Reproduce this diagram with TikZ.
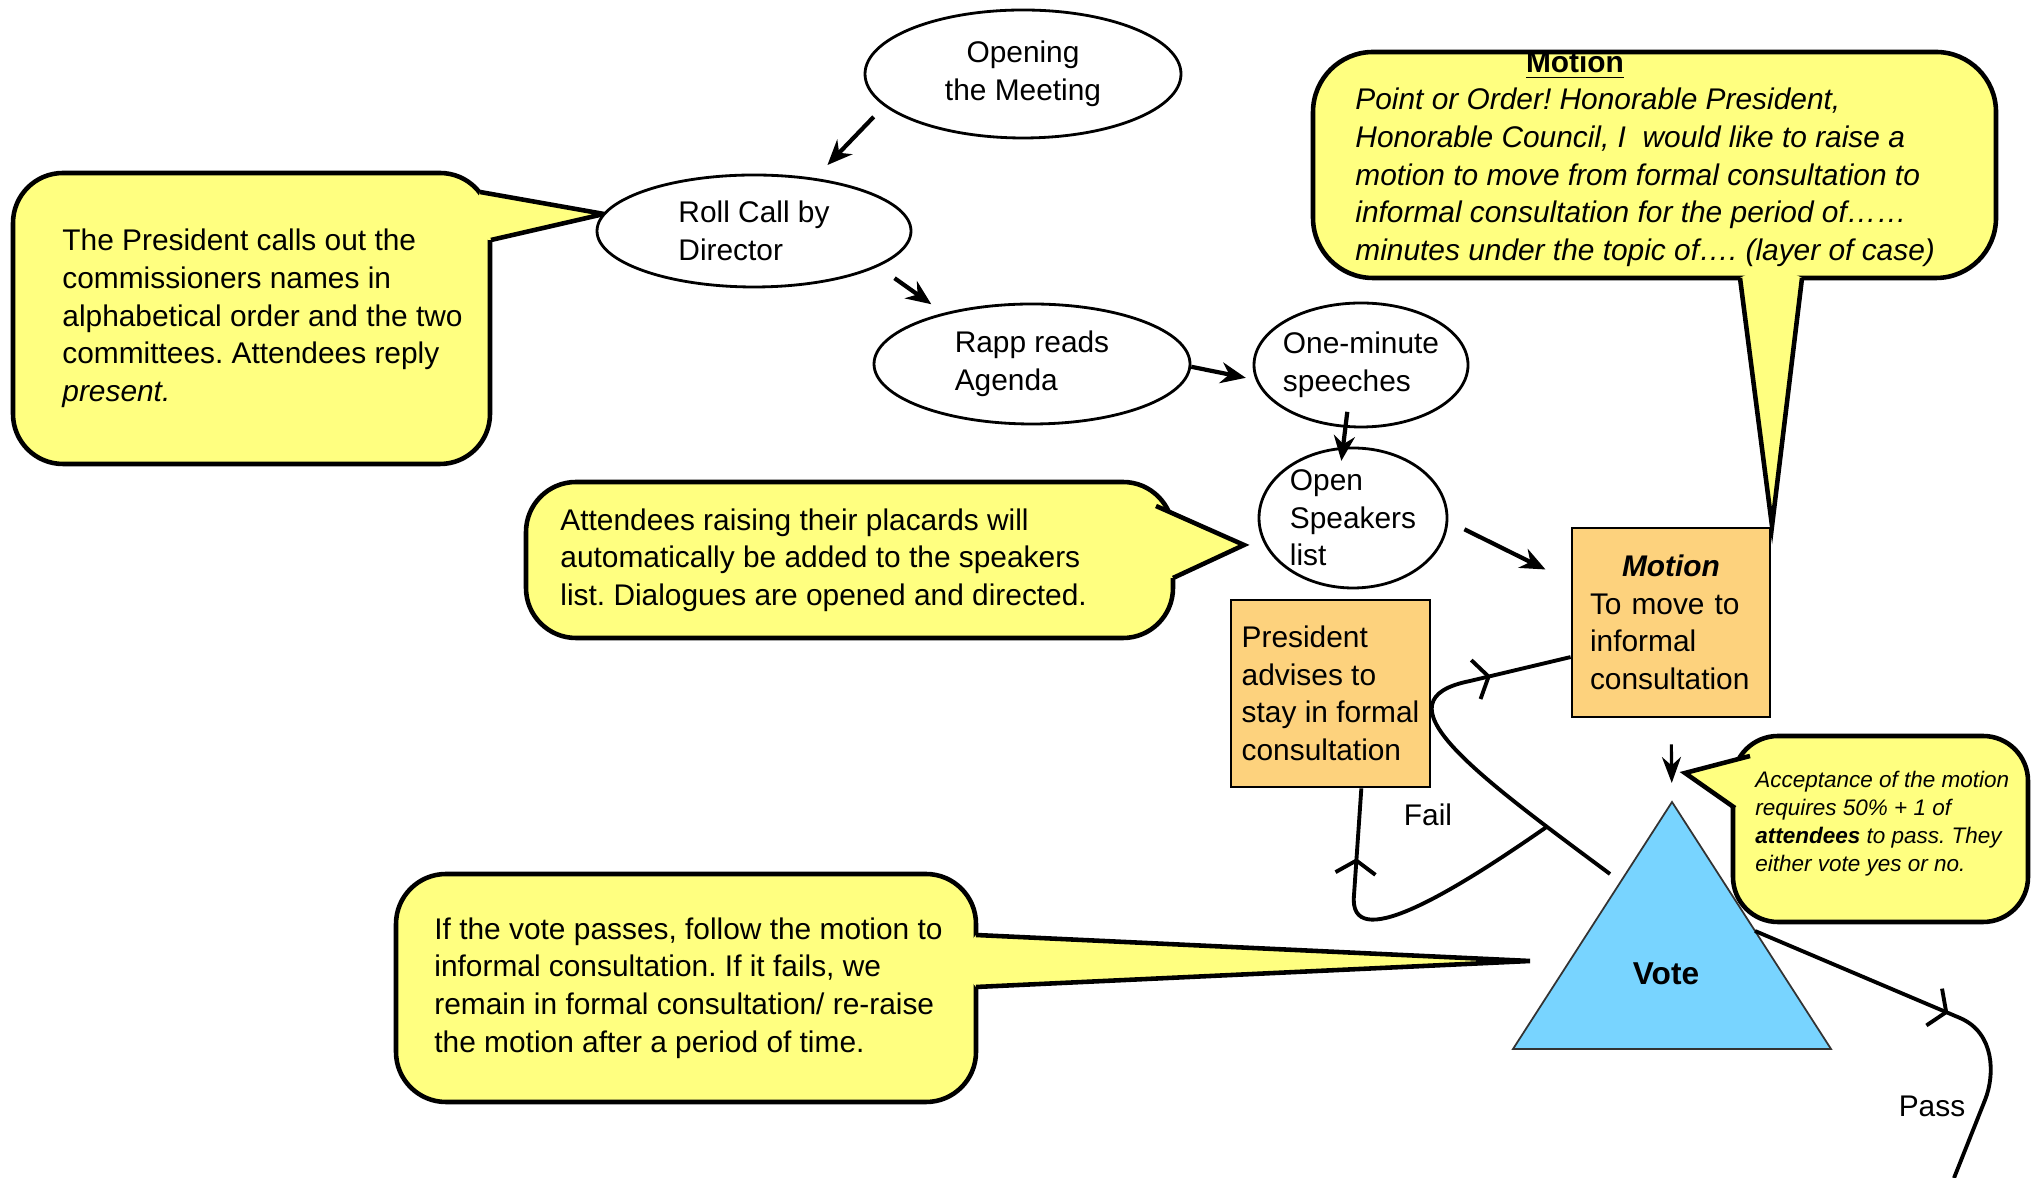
\documentclass[tikz,border=0pt]{standalone}
\usepackage{fontspec}
\setmainfont{Liberation Sans}
\usetikzlibrary{shapes.geometric}
\usetikzlibrary{arrows.meta}
\usetikzlibrary{positioning}
\usetikzlibrary{decorations.markings}
\definecolor{notefill}{RGB}{255,255,128}
\definecolor{boxfill}{RGB}{253,210,125}
\definecolor{votefill}{RGB}{120,212,255}
\frenchspacing
\def\pointer#1#2#3#4{
  \fill[notefill] #1 -- #2 -- #3 -- #4 -- cycle;
  \draw[noteline] #1 -- #2 -- #3;
}

\begin{document}
\begin{tikzpicture}[x=0.1mm, y=-0.1mm,
  every node/.style={font=\fontsize{8.5}{10.7}\selectfont},
  stage/.style={ellipse, draw, line width=0.8pt, fill=white, inner sep=-2.5mm, align=left},
  actbox/.style={rectangle, draw, line width=0.8pt, fill=boxfill, inner sep=0pt, align=left},
  notebox/.style={rectangle, draw, line width=1.3pt, fill=notefill, rounded corners=5mm},
  noteline/.style={line width=1.3pt, line join=miter},
  notetext/.style={align=left, inner sep=0pt},
  flow/.style={line width=1.2pt, -{Stealth[length=2.5mm, width=2.1mm]}},
  loopline/.style={line width=1.1pt},
  midbarb/.style={postaction=decorate, decoration={markings,
    mark=at position #1 with {\arrow{Straight Barb[length=1.3mm, width=4mm]}}}}
]
\useasboundingbox (0,0) rectangle (2036,1178);

% callouts
\node[notebox, minimum width=47.7mm, minimum height=29.1mm] (noteRollBox) at (251.5,318.5) {};
\pointer{(480,192)}{(604,214)}{(491,240)}{(465,238)}
\node[notetext, right=5.1mm of noteRollBox.west] (noteRoll)
  {The President calls out the\\commissioners names in\\alphabetical order and the two\\committees. Attendees reply\\\textit{present.}};

\node[notebox, minimum width=64.7mm, minimum height=15.6mm] (noteAttBox) at (849.5,560) {};
\pointer{(1156,506)}{(1244,545)}{(1173,578)}{(1140,575)}
\node[notetext, right=3.6mm of noteAttBox.west] (noteAtt)
  {Attendees raising their placards will\\automatically be added to the speakers\\list. Dialogues are opened and directed.};

\node[notebox, minimum width=58mm, minimum height=22.8mm] (noteVoteBox) at (686,988) {};
\pointer{(976,935)}{(1530,961)}{(976,987)}{(955,961)}
\node[notetext, right=4mm of noteVoteBox.west] (noteVote)
  {If the vote passes, follow the motion to\\informal consultation. If it fails, we\\remain in formal consultation/ re-raise\\the motion after a period of time.};

\node[notebox, rounded corners=6mm, minimum width=68.3mm, minimum height=22.6mm] (noteMotionBox) at (1654.5,165) {};
\pointer{(1740,278)}{(1772,526)}{(1802,278)}{(1771,262)}
\node[font=\fontsize{8.5}{10.7}\selectfont\bfseries] (motionTitle) at (1575,65) {\underline{Motion}};
\node[notetext, font=\fontsize{8.5}{10.7}\selectfont\itshape, right=4.4mm of noteMotionBox.west, yshift=-1.25mm] (noteMotion)
  {Point or Order! Honorable President,\\Honorable Council, I\ \ would like to raise a\\motion to move from formal consultation to\\informal consultation for the period of……\\minutes under the topic of…. (layer of case)};

\node[notebox, rounded corners=4.5mm, minimum width=29.5mm, minimum height=18.6mm] (noteAcceptBox) at (1880.5,829) {};
\pointer{(1750,756)}{(1685,773)}{(1735,808)}{(1760,790)}
\node[notetext, font=\fontsize{6.4}{8}\selectfont\itshape, right=2.4mm of noteAcceptBox.west, yshift=0.55mm] (noteAccept)
  {Acceptance of the motion\\requires 50\% + 1 of\\\textbf{attendees} to pass. They\\either vote yes or no.};

% meeting steps
\node[stage, align=center, minimum width=31.6mm, minimum height=12.8mm] (open) at (1023,74) {Opening\\the Meeting};
\node[stage, minimum width=31.4mm, minimum height=11.2mm] (roll) at (754,231) {Roll Call by\\Director};
\node[stage, minimum width=31.6mm, minimum height=12mm] (rapp) at (1032,364) {Rapp reads\\Agenda};
\node[stage, minimum width=21.4mm, minimum height=12.4mm] (onemin) at (1361,365) {One-minute\\speeches};
\node[stage, minimum width=18.8mm, minimum height=14mm] (speak) at (1353,518) {Open\\Speakers\\list};

\node[actbox, text width=16.2mm, minimum width=19.8mm, minimum height=18.9mm] (motion) at (1671,622.5)
  {{\centering\bfseries\itshape Motion\par}To move to\\informal\\consultation};
\node[actbox, minimum width=19.9mm, minimum height=18.7mm] (pres) at (1330.5,693.5)
  {President\\advises to\\stay in formal\\consultation};

% the vote
\coordinate (vtop) at (1672,802);
\coordinate (vleft) at (1513,1049);
\coordinate (vright) at (1831,1049);
\filldraw[fill=votefill, draw=black!80, line width=0.5pt] (vtop) -- (vright) -- (vleft) -- cycle;
\node[font=\fontsize{9}{11}\selectfont\bfseries] (vote) at (1666,974) {Vote};

% arrows between steps
\draw[flow, shorten <=1.5mm, shorten >=1.8mm] (open.193) -- (roll.41);
\draw[flow, shorten <=2mm, shorten >=1.5mm] (roll.344) -- (rapp.150);
\draw[flow, shorten >=1mm] (rapp.359) -- (onemin.188);
\draw[flow, shorten <=-1.6mm, shorten >=-1.4mm] (onemin.256) -- (speak.98);
\draw[flow, shorten <=1.8mm, shorten >=2.8mm] (speak.358) -- (motion.158);
\draw[line width=0.9pt, -{Stealth[length=2.6mm, width=1.9mm]}, shorten <=2.6mm, shorten >=1.9mm] (motion.south) -- (vtop);

% fail and pass
\coordinate (failstart) at (1610,874);
\coordinate (passstart) at (1755,931);
\coordinate (passend) at (1954,1178);
\draw[loopline, midbarb=-8.2mm] (failstart) .. controls (1470,770) and (1375,700) .. (1470,681)
  coordinate[pos=0.16] (failjoin) -- (motion.199);
\draw[loopline, midbarb=-7mm] (failjoin) .. controls (1449,895) and (1348,955) .. (1354,895) -- (pres.288);
\draw[loopline, midbarb=21mm] (passstart) -- (1960,1018) .. controls (1995,1033) and (1995,1075) .. (1985,1100) -- (passend);
\node (failLabel) at (1428,815) {Fail};
\node (passLabel) at (1932,1106) {Pass};
\end{tikzpicture}
\end{document}
